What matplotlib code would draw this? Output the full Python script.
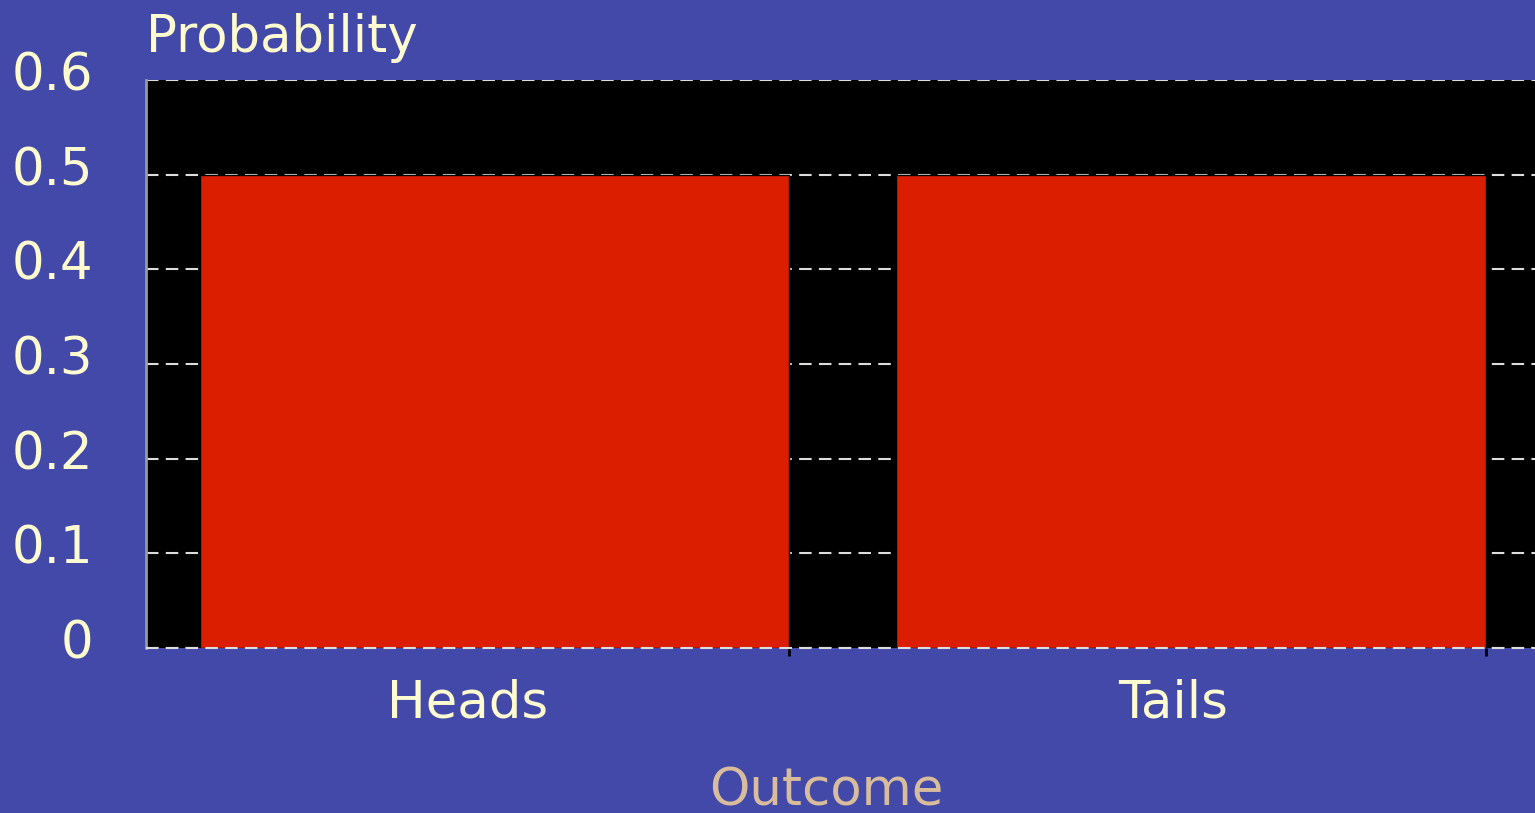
import matplotlib.pyplot as plt
from matplotlib.transforms import ScaledTranslation

outcomes = ["Heads", "Tails"]
probs = [0.5, 0.5]
yticks = [0, 0.1, 0.2, 0.3, 0.4, 0.5, 0.6]
ytick_labels = ["0", "0.1", "0.2", "0.3", "0.4", "0.5", "0.6"]

bg = "#4349A8"
cream = "#FDFBCF"
tan = "#D8BC9C"
red = "#DC1E00"

plt.rcParams['font.family'] = ['DejaVu Sans']

fig = plt.figure(figsize=(15.35, 8.13), dpi=100, facecolor=bg)
ax = fig.add_axes([146 / 1535, 165 / 813, 1 - 146 / 1535, (648 - 80) / 813])
ax.set_facecolor("black")

pos = list(range(len(outcomes)))
width = 0.846
ax.bar(pos, probs, width=width, color=red, edgecolor="black", linewidth=1, zorder=3)

ax.set_xlim(-0.5, 1.494)
ax.set_ylim(0, 0.6)
ax.set_yticks(yticks)
ax.set_yticklabels(ytick_labels)
ax.yaxis.grid(True, color="#DDDDDD", linestyle=(0, (6, 3.5)), linewidth=1.5, zorder=1)
ax.set_axisbelow(True)

# category labels sit a little left of bar centres
ax.set_xticks([pos[0] - 0.038, pos[1] - 0.026])
ax.set_xticklabels(outcomes)
ax.set_xticks([p + width / 2 for p in pos], minor=True)
ax.tick_params(axis="x", which="major", length=0, pad=22, labelsize=37, labelcolor=cream)
ax.tick_params(axis="x", which="minor", length=6, width=2, color="black", direction="out")
ax.tick_params(axis="y", length=0, pad=38, labelsize=37, labelcolor=cream)

# nudge y labels up a bit
lift = ScaledTranslation(0, 9 / 100, fig.dpi_scale_trans)
for lbl in ax.get_yticklabels():
    lbl.set_transform(lbl.get_transform() + lift)

for s in ["top", "right", "bottom"]:
    ax.spines[s].set_visible(False)
ax.spines["left"].set_color("#999999")
ax.spines["left"].set_linewidth(2)
ax.axhline(0, color="#DDDDDD", linestyle=(0, (6, 3.5)), linewidth=1.5, zorder=4, clip_on=False)

fig.text(146 / 1535, 1 - 52 / 813, "Probability", color=cream, fontsize=37,
         ha="left", va="baseline")
fig.text(826 / 1535, 1 - 805 / 813, "Outcome", color=tan, fontsize=37,
         ha="center", va="baseline")

fig.savefig("out.png", dpi=100, facecolor=bg)
